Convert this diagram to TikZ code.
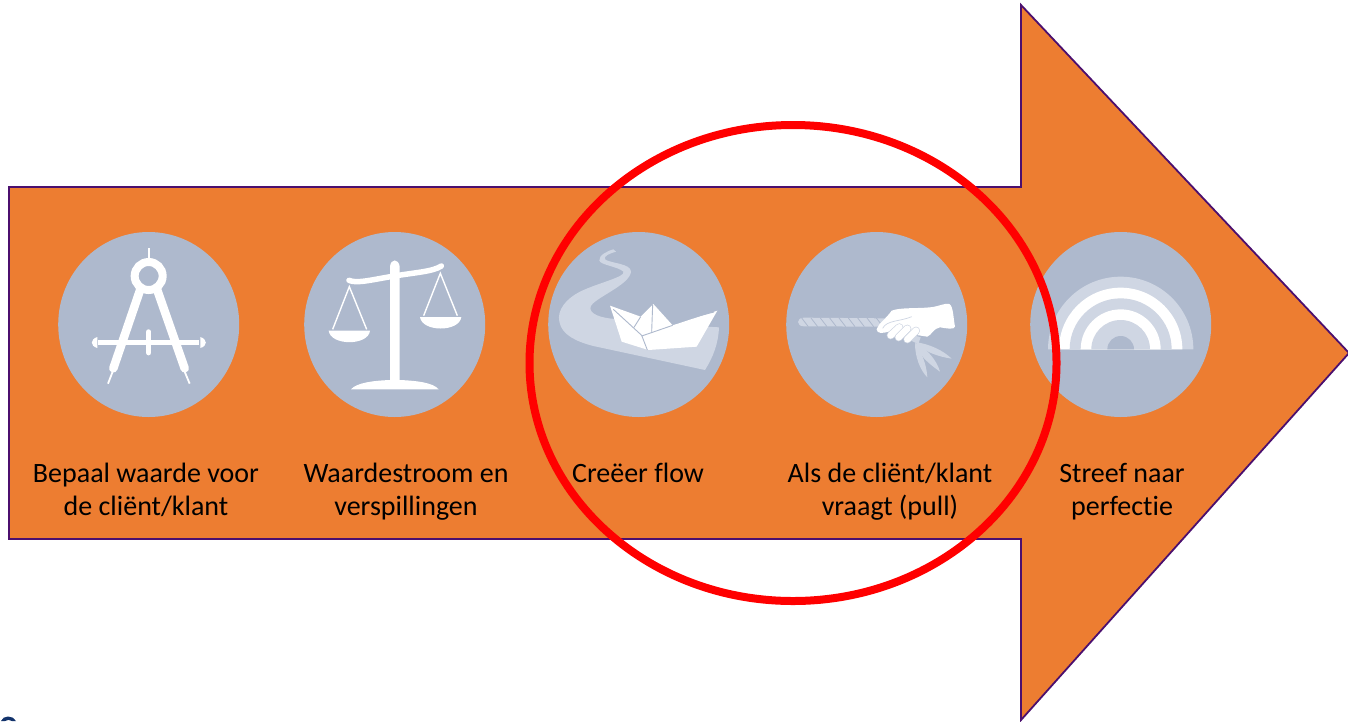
\documentclass[tikz,border=0pt]{standalone}
\usepackage{fontspec}
\setmainfont[Ligatures=NoCommon]{Carlito}
\usetikzlibrary{shapes.geometric}
\definecolor{arrowfill}{HTML}{ED7D31}
\definecolor{arrowline}{HTML}{4B0F6E}
\definecolor{discblue}{HTML}{AEB9CD}
\definecolor{paleblue}{HTML}{CFD6E3}
\definecolor{pagenavy}{HTML}{12326B}
\tikzset{
  disc/.style={ellipse,fill=discblue,minimum width=181pt,minimum height=185pt,inner sep=0pt},
  steplabel/.style={anchor=north,align=center,inner sep=0pt,text=black,
    font=\fontsize{28}{33}\selectfont},
  zoomed/.style={shift={#1},scale=0.33333},
}
\begin{document}
\begin{tikzpicture}[x=1pt,y=-1pt]
    \useasboundingbox (0,0) rectangle (1348,721);
    \draw[arrowline,fill=arrowfill,line width=1.8pt,line join=miter]
      (9,187) -- (1021,187) -- (1021,5) -- (1349,353) -- (1021,720)
      -- (1021,539) -- (9,539) -- cycle;
    \node[disc] (waarde) at (148.7,324.5) {};
    \node[disc] (stroom) at (394.7,324.5) {};
    \node[disc] (flow) at (638.7,324.5) {};
    \node[disc] (pull) at (876.7,324.5) {};
    \node[disc] (perfectie) at (1120.7,324.5) {};
    \node[steplabel] (waardetext) at (146,463) {Bepaal waarde voor\\de cliënt/klant};
    \node[steplabel] (stroomtext) at (406,463) {Waardestroom en\\verspillingen};
    \node[steplabel] (flowtext) at (638,463) {Creëer flow};
    \node[steplabel] (pulltext) at (890,463) {Als de cliënt/klant\\vraagt (pull)};
    \node[steplabel] (perfectietext) at (1122,463) {Streef naar\\perfectie};
    \begin{scope}[zoomed={(40,220)},white]
      \draw[line width=8pt] (326,168) circle (42);
      \draw[line width=1.8pt] (326,85) -- (326,120);
      \draw[line width=8.5pt,line cap=round] (302,205) -- (220,445);
      \draw[line width=8.5pt,line cap=round] (350,205) -- (434,445);
      \draw[line width=1.8pt] (218,455) -- (204,491);
      \draw[line width=1.8pt] (434,455) -- (449,491);
      \draw[line width=5pt] (175,368) -- (478,368);
      \draw[line width=5.5pt,line cap=round] (326,336) -- (326,398);
      \fill (172,351) .. controls (150,358) and (150,378) .. (172,384) -- cycle;
      \fill (481,351) .. controls (503,358) and (503,378) .. (481,384) -- cycle;
      \fill (1050,480) -- (1050,140) .. controls (1052,115) and (1076,115) .. (1079,140)
        -- (1079,480) .. controls (1130,482) and (1180,488) .. (1196,508) -- (933,508)
        .. controls (950,488) and (1000,482) .. (1050,480) -- cycle;
      \draw[line width=5.5pt,line cap=round] (927,181) .. controls (950,192) and (1000,178) .. (1064,168)
        .. controls (1120,158) and (1180,155) .. (1204,138);
      \draw[line width=1.4pt] (878,328) -- (928,200) -- (980,328);
      \draw[line width=1.4pt] (1151,287) -- (1201,160) -- (1252,287);
      \fill (866,332) -- (990,332) .. controls (985,378) and (872,378) .. (866,332) -- cycle;
      \fill (1140,291) -- (1264,291) .. controls (1258,337) and (1146,337) .. (1140,291) -- cycle;
    \end{scope}
    \begin{scope}[zoomed={(530,220)}]
      \fill[paleblue] (250,88) .. controls (235,92) and (205,105) .. (208,122)
        .. controls (212,135) and (265,140) .. (280,155)
        .. controls (290,170) and (200,190) .. (150,215)
        .. controls (110,235) and (80,270) .. (88,305)
        .. controls (95,345) and (140,365) .. (190,378) -- (525,450)
        .. controls (550,410) and (565,370) .. (567,322) -- (340,310) -- (260,297)
        .. controls (210,295) and (175,280) .. (182,260)
        .. controls (190,235) and (300,195) .. (303,155)
        .. controls (303,130) and (240,130) .. (225,118)
        .. controls (220,108) and (240,100) .. (258,95) -- cycle;
      \fill[white] (240,257) -- (332,290) -- (370,252) -- (428,316) -- (562,272)
        -- (500,380) -- (355,390) -- (275,365) -- cycle;
      \draw[discblue,line width=0.9pt] (250,268) -- (335,346) -- (352,390);
      \draw[discblue,line width=0.9pt] (312,322) -- (332,290);
      \draw[discblue,line width=0.9pt] (335,348) -- (428,316);
      \draw[discblue,line width=0.9pt] (368,254) -- (365,335);
      \draw[discblue,line width=0.9pt] (434,306) -- (552,276);
      \fill[paleblue] (822,293) -- (1065,295) -- (1065,320) -- (822,319)
        .. controls (798,319) and (798,293) .. (822,293) -- cycle;
      \foreach \ropex in {815,843,...,1040}
        \draw[discblue,line width=0.8pt] (\ropex,294) -- (\ropex+20,320);
      \fill[paleblue] (1150,345) -- (1172,352) -- (1165,372) -- (1143,362) -- cycle;
      \fill[paleblue] (1155,366) .. controls (1200,372) and (1240,392) .. (1265,416)
        .. controls (1225,410) and (1180,395) .. (1155,366) -- cycle;
      \fill[paleblue] (1155,368) .. controls (1190,385) and (1220,420) .. (1230,455)
        .. controls (1195,430) and (1165,405) .. (1155,368) -- cycle;
      \fill[paleblue] (1155,370) .. controls (1175,395) and (1190,435) .. (1192,472)
        .. controls (1170,450) and (1155,410) .. (1155,370) -- cycle;
      \fill[white] (1040,328) .. controls (1045,310) and (1065,300) .. (1085,272)
        .. controls (1110,262) and (1160,266) .. (1200,262)
        .. controls (1225,260) and (1245,248) .. (1258,252)
        .. controls (1270,258) and (1270,295) .. (1275,320)
        .. controls (1272,330) and (1250,325) .. (1230,322)
        .. controls (1210,325) and (1205,345) .. (1192,350)
        -- (1160,345) -- (1075,335)
        .. controls (1060,340) and (1040,342) .. (1040,328) -- cycle;
      \foreach \fingera/\fingerb in {{(1108,322)}/{(1082,346)},{(1132,326)}/{(1106,352)},{(1158,332)}/{(1132,358)}} {
        \draw[paleblue,line width=8pt,line cap=round] \fingera -- \fingerb;
        \draw[white,line width=6.6pt,line cap=round] \fingera -- \fingerb;
      }
      \draw[paleblue,line width=0.7pt] (1058,325) .. controls (1070,300) and (1110,305) .. (1145,290);
    \end{scope}
    \begin{scope}[zoomed={(1020,220)}]
      \foreach \archr/\archcol in {218/paleblue,185/white,153/paleblue,120/white,88/paleblue,40/discblue}
        \fill[\archcol] (302-\archr,388) arc[start angle=180,end angle=360,radius=\archr] -- cycle;
    \end{scope}
    \draw[red,line width=8pt] (793,363) ellipse [x radius=263.5,y radius=238];
    \fill[pagenavy] (1,721) .. controls (3,715) and (13,715) .. (16,721) -- (12,721)
      .. controls (10,719.5) and (7,719.5) .. (5,721) -- cycle;
  \end{tikzpicture}
\end{document}
